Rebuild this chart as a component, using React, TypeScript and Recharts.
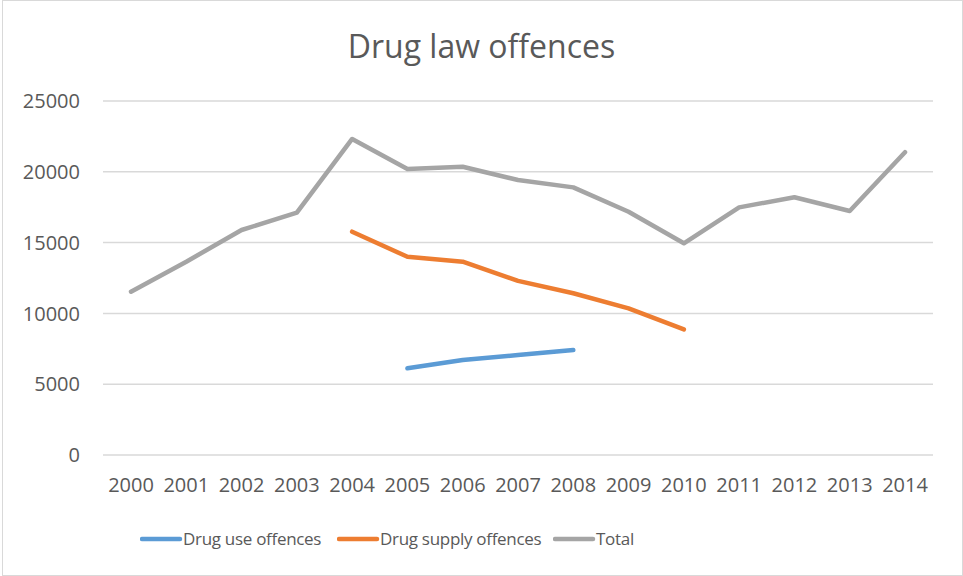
import {
  LineChart,
  Line,
  XAxis,
  YAxis,
  CartesianGrid,
  Legend
} from "recharts";

const years = [
  "2000", "2001", "2002", "2003", "2004", "2005", "2006", "2007",
  "2008", "2009", "2010", "2011", "2012", "2013", "2014"
];

const drugUse = [
  null, null, null, null, null, 6120, 6710, 7060,
  7415, null, null, null, null, null, null
];

const drugSupply = [
  null, null, null, null, 15770, 14000, 13650, 12300,
  11420, 10360, 8870, null, null, null, null
];

const total = [
  11530, 13650, 15890, 17110, 22320, 20200, 20360, 19420,
  18900, 17180, 14950, 17490, 18200, 17230, 21380
];

const yTicks = [0, 5000, 10000, 15000, 20000, 25000];

const seriesOrder = ["Drug use offences", "Drug supply offences", "Total"];

const data = years.map((year, i) => ({
  year,
  use: drugUse[i],
  supply: drugSupply[i],
  total: total[i]
}));

const FONT = "'Open Sans', 'Noto Sans', sans-serif";
const TEXT = "#595959";
const legendSlots = [197, 216, 0];

function ChartLegend({ payload }: any) {
  const items = [...(payload || [])].sort(
    (a: any, b: any) => seriesOrder.indexOf(a.value) - seriesOrder.indexOf(b.value)
  );
  return (
    <div
      style={{
        display: "flex",
        alignItems: "center",
        paddingLeft: 140,
        fontFamily: FONT,
        fontSize: 17,
        letterSpacing: -0.3,
        color: TEXT
      }}
    >
      {items.map((item: any, i: number) => (
        <div
          key={i}
          style={{
            display: "flex",
            alignItems: "center",
            minWidth: legendSlots[i] || undefined
          }}
        >
          <svg width={43} height={10}>
            <line
              x1={2}
              y1={5}
              x2={40}
              y2={5}
              stroke={item.color}
              strokeWidth={4.5}
              strokeLinecap="round"
            />
          </svg>
          <span>{item.value}</span>
        </div>
      ))}
    </div>
  );
}

export default function App() {

  return (

    <div
      style={{
        position: "absolute",
        left: 0,
        top: 0,
        width: 963,
        height: 576,
        background: "#fff"
      }}
    >

      <div
        style={{
          position: "absolute",
          left: 2,
          top: 0,
          width: 961,
          height: 576,
          boxSizing: "border-box",
          border: "1px solid #d9d9d9"
        }}
      />

      <div
        style={{
          position: "absolute",
          left: 0,
          top: 24,
          width: 963,
          textAlign: "center",
          fontFamily: FONT,
          fontSize: 32,
          color: TEXT,
          lineHeight: "44px"
        }}
      >
        Drug law offences
      </div>

      <div style={{ position: "absolute", left: 0, top: 0 }}>

        <LineChart
          width={963}
          height={576}
          data={data}
          margin={{ top: 101, right: 30, bottom: 81, left: 0 }}
        >

          <CartesianGrid
            vertical={false}
            stroke="#d9d9d9"
            strokeWidth={1.5}
          />

          <XAxis
            dataKey="year"
            height={40}
            axisLine={false}
            tickLine={false}
            tickSize={0}
            tickMargin={23}
            padding={{ left: 28, right: 28 }}
            tick={{ fill: TEXT, fontSize: 20, fontFamily: FONT }}
            interval={0}
          />

          <YAxis
            width={103}
            domain={[0, 25000]}
            ticks={yTicks}
            axisLine={false}
            tickLine={false}
            tickSize={0}
            tickMargin={23}
            tick={{ fill: TEXT, fontSize: 20, fontFamily: FONT }}
          />

          <Legend
            verticalAlign="middle"
            align="center"
            layout="horizontal"
            wrapperStyle={{ top: 527, left: 0, width: 963 }}
            content={<ChartLegend />}
          />

          <Line
            name="Drug use offences"
            dataKey="use"
            stroke="#5b9bd5"
            strokeWidth={4.5}
            strokeLinecap="round"
            strokeLinejoin="round"
            dot={false}
            activeDot={false}
            isAnimationActive={false}
          />

          <Line
            name="Drug supply offences"
            dataKey="supply"
            stroke="#ed7d31"
            strokeWidth={4.5}
            strokeLinecap="round"
            strokeLinejoin="round"
            dot={false}
            activeDot={false}
            isAnimationActive={false}
          />

          <Line
            name="Total"
            dataKey="total"
            stroke="#a5a5a5"
            strokeWidth={4.5}
            strokeLinecap="round"
            strokeLinejoin="round"
            dot={false}
            activeDot={false}
            isAnimationActive={false}
          />

        </LineChart>

      </div>

    </div>

  );

}
